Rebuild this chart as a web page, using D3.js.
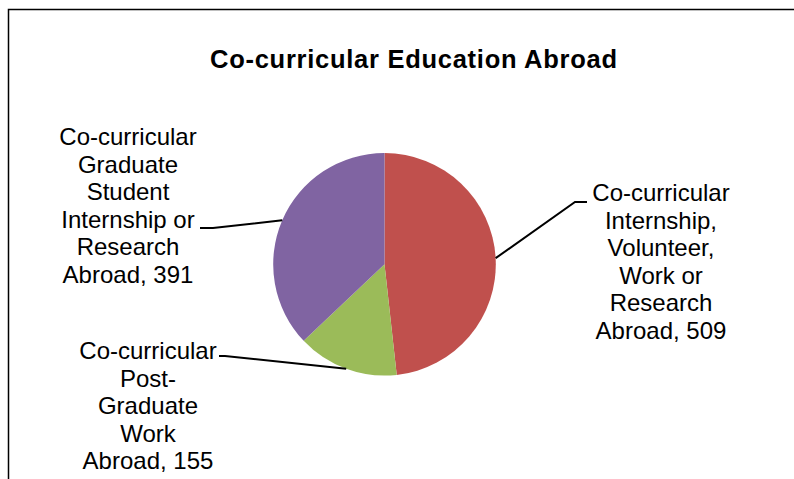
<!DOCTYPE html>
<html>
<head>
<meta charset="utf-8">
<script src="https://cdn.jsdelivr.net/npm/d3@7"></script>
<style>
  html, body { margin: 0; padding: 0; background: #fff; }
  svg { display: block; }
</style>
</head>
<body>
<svg id="chart" width="794" height="479"></svg>
<script>
const title = "Co-curricular Education Abroad";
const categories = [
  "Co-curricular Internship, Volunteer, Work or Research Abroad",
  "Co-curricular Post-Graduate Work Abroad",
  "Co-curricular Graduate Student Internship or Research Abroad"
];
const values = [509, 155, 391];
const colors = ["#C0504D", "#9BBB59", "#8064A2"];
const labelLines = [
  ["Co-curricular", "Internship,", "Volunteer,", "Work or", "Research", "Abroad, 509"],
  ["Co-curricular", "Post-", "Graduate", "Work", "Abroad, 155"],
  ["Co-curricular", "Graduate", "Student", "Internship or", "Research", "Abroad, 391"]
];

// layout (label positions & leader elbows)
const labelLayout = [
  { cx: 661, y0: 201, elbow: [575, 202], end: [587, 202] },
  { cx: 148, y0: 359, elbow: [225, 356], end: [219, 356] },
  { cx: 128, y0: 145, elbow: [213, 228], end: [200, 228] }
];

const W = 794, H = 479;
const cx = 384.5, cy = 264.3, R = 111.3;
const lineH = 27.6;

const svg = d3.select("#chart");

// frame
svg.append("path")
  .attr("d", "M8.5,479 L8.5,9.5 L794,9.5")
  .attr("fill", "none").attr("stroke", "#000").attr("stroke-width", 1.5);

// title
svg.append("text")
  .attr("x", 413.5).attr("y", 67.5)
  .attr("text-anchor", "middle")
  .attr("font-family", "Liberation Sans, Arial, sans-serif")
  .attr("font-weight", "bold")
  .attr("font-size", 25.5)
  .attr("textLength", 407)
  .attr("lengthAdjust", "spacing")
  .text(title);

const pie = d3.pie().sort(null).value(d => d)(values);
const arc = d3.arc().innerRadius(0).outerRadius(R);

const g = svg.append("g").attr("transform", `translate(${cx},${cy})`);
g.selectAll("path.slice").data(pie).enter().append("path")
  .attr("class", "slice")
  .attr("d", arc)
  .attr("fill", (d, i) => colors[i]);

// leader lines
pie.forEach((d, i) => {
  const a = (d.startAngle + d.endAngle) / 2;
  const px = cx + R * Math.sin(a), py = cy - R * Math.cos(a);
  const L = labelLayout[i];
  svg.append("polyline")
    .attr("points", [[px, py], L.elbow, L.end].map(p => p.join(",")).join(" "))
    .attr("fill", "none").attr("stroke", "#000").attr("stroke-width", 2);
});

// labels
labelLines.forEach((lines, i) => {
  const L = labelLayout[i];
  const t = svg.append("text")
    .attr("text-anchor", "middle")
    .attr("font-family", "Liberation Sans, Arial, sans-serif")
    .attr("font-size", 24)
    .attr("fill", "#000");
  lines.forEach((ln, j) => {
    t.append("tspan").attr("x", L.cx).attr("y", L.y0 + j * lineH).text(ln);
  });
});
</script>
</body>
</html>
